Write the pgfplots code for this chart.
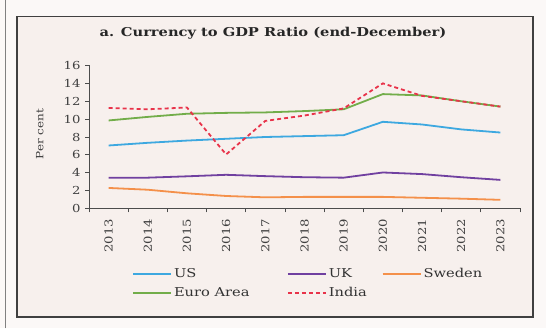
\documentclass[border=0pt]{standalone}
\usepackage{pgfplots}
\pgfplotsset{compat=1.18}
\usepackage{fontspec}
\setmainfont{DejaVu Serif}[FakeStretch=1.2]
\definecolor{bgout}{HTML}{FBF8F7}
\definecolor{bgin}{HTML}{F7F0ED}
\definecolor{cUS}{HTML}{3DA8E0}
\definecolor{cUK}{HTML}{7040A0}
\definecolor{cSW}{HTML}{F4904A}
\definecolor{cEA}{HTML}{72AD4A}
\definecolor{cIN}{HTML}{E8334A}
\begin{document}
\begin{tikzpicture}
\fill[bgout] (0pt,0pt) rectangle (546pt,328pt);
\fill[bgin] (17pt,11.5pt) rectangle (533pt,312pt);
\draw[line width=1.3pt, black!75] (17pt,11.5pt) rectangle (533pt,312pt);
\draw[gray, line width=1pt] (5pt,0pt) -- (5pt,328pt);
\node[font=\bfseries\fontsize{12.2}{14}\selectfont, text=black!85] at (273pt,295pt) {a. Currency to GDP Ratio (end-December)};
\begin{axis}[at={(89pt,120pt)}, anchor=south west, scale only axis,
  width=431pt, height=143pt,
  xmin=-0.5, xmax=10.5, ymin=0, ymax=16,
  axis x line=bottom, axis y line=left,
  axis line style={-, black!70, line width=0.8pt},
  ytick={0,2,...,16},
  xtick={0,...,10},
  xticklabels={2013,2014,2015,2016,2017,2018,2019,2020,2021,2022,2023},
  minor xtick={-0.5,0.5,...,10.5},
  major x tick style={draw=none},
  minor tick length=4pt, major tick length=4pt,
  tick align=outside,
  tick style={black!70, line width=0.8pt},
  /pgf/number format/assume math mode=true,
  ticklabel style={font=\fontsize{11}{13}\selectfont, text=black!75},
  yticklabel style={xshift=-1pt},
  xticklabel style={yshift=-3pt, rotate=90, anchor=east},
  ylabel={Per cent},
  ylabel style={at={(axis description cs:-0.114,0.52)}, anchor=center, font=\fontsize{10}{12}\selectfont, text=black!75},
  legend columns=3,
  legend cell align=left,
  legend style={at={(axis description cs:0.0928,-0.39)}, anchor=north west, draw=none, fill=none,
    font=\fontsize{12.2}{14}\selectfont, text=black!80, column sep=0pt, row sep=4pt},
  legend image code/.code={\draw[#1, line width=1.8pt] (0pt,0pt) -- (38pt,0pt);},
  every axis plot/.append style={line width=1.8pt},
]
\addplot[cUS] coordinates {(0,7.05) (1,7.35) (2,7.6) (3,7.8) (4,8.0) (5,8.1) (6,8.2) (7,9.7) (8,9.4) (9,8.85) (10,8.5)};
\addlegendentry{\makebox[111pt][l]{US}}
\addplot[cUK] coordinates {(0,3.43) (1,3.45) (2,3.6) (3,3.77) (4,3.62) (5,3.5) (6,3.45) (7,4.03) (8,3.85) (9,3.5) (10,3.2)};
\addlegendentry{\makebox[51pt][l]{UK}}
\addplot[cSW] coordinates {(0,2.3) (1,2.1) (2,1.7) (3,1.4) (4,1.25) (5,1.3) (6,1.3) (7,1.3) (8,1.2) (9,1.1) (10,0.97)};
\addlegendentry{Sweden}
\addplot[cEA] coordinates {(0,9.85) (1,10.25) (2,10.6) (3,10.7) (4,10.75) (5,10.9) (6,11.1) (7,12.8) (8,12.65) (9,12.0) (10,11.4)};
\addlegendentry{Euro Area}
\addplot[cIN, dash pattern=on 4pt off 3pt] coordinates {(0,11.25) (1,11.1) (2,11.3) (3,6.05) (4,9.8) (5,10.4) (6,11.2) (7,14.0) (8,12.6) (9,12.0) (10,11.4)};
\addlegendentry{India}
\end{axis}
\end{tikzpicture}
\end{document}
